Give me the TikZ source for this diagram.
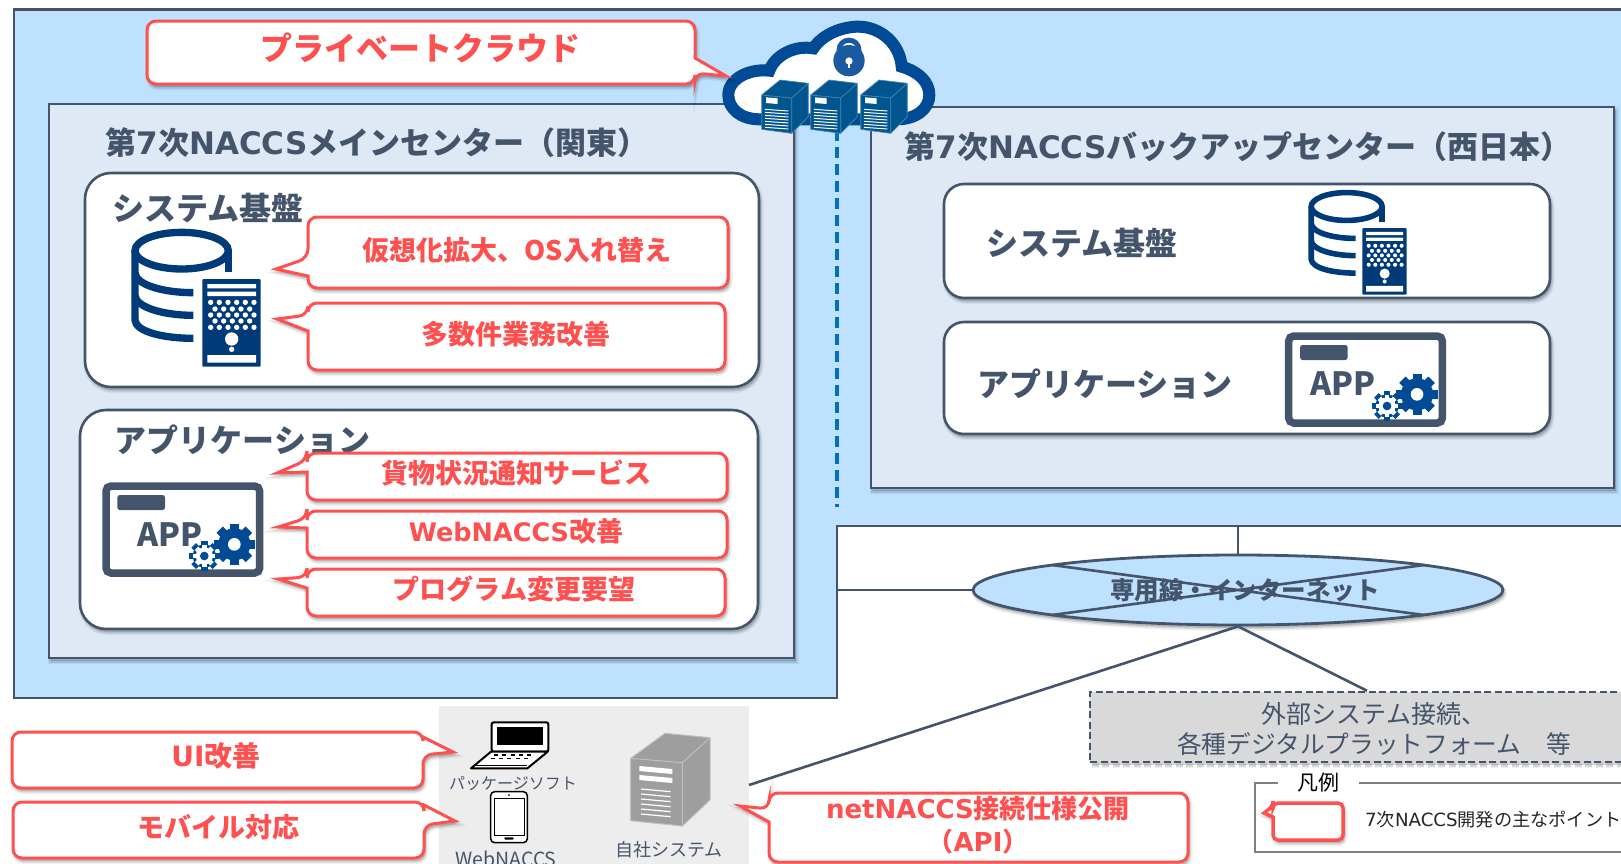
\documentclass[tikz,border=0pt]{standalone}
\usepackage{fontspec}
\setmainfont{Noto Sans CJK JP}
\newfontfamily\vd{DejaVu Sans}
\usetikzlibrary{shapes.geometric}
\definecolor{outerblue}{HTML}{BDE1FF}
\definecolor{mainfill}{HTML}{DEE9F5}
\definecolor{slate}{HTML}{44546A}
\definecolor{redc}{HTML}{FF5050}
\definecolor{navy}{HTML}{003A78}
\definecolor{cloudb}{HTML}{004A96}
\definecolor{srvb}{HTML}{00558F}
\definecolor{lockb}{HTML}{1B5AA0}
\definecolor{dashb}{HTML}{0070C0}
\definecolor{panelg}{HTML}{EDEDED}
\definecolor{extg}{HTML}{D9D9D9}
\newcommand\fsz[1]{\fontsize{#1}{#1}\selectfont}
\newcommand\la[1]{{\vd #1}}
\tikzset{
  softshadow/.style={
    preaction={draw=black,fill=black,opacity=.06,line width=6pt,transform canvas={xshift=1.5pt,yshift=-3pt}},
    preaction={draw=black,fill=black,opacity=.10,line width=3pt,transform canvas={xshift=1.5pt,yshift=-3pt}}},
  panelbox/.style={draw=slate,line width=2.6pt,rectangle,inner sep=0},
  whitebox/.style={panelbox,fill=white,rounded corners=26pt,softshadow},
  hd/.style={inner sep=0,text=slate,font=\bfseries\fsz{31}},
  hdb/.style={inner sep=0,text=slate,font=\bfseries\fsz{32}},
  rd/.style={inner sep=0,text=redc,font=\bfseries\fsz{27},align=center},
  callbox/.style={draw=redc,line width=3pt,fill=white,miter limit=10,softshadow},
  captxt/.style={inner sep=0,text=slate,align=center},
  conn/.style={draw=slate,line width=2.6pt}
}
% left tail callout: x1 y1 x2 y2 base1 base2 tipx tipy
\newcommand\callL[8]{\path[callbox] (#1,#5) -- (#7,#8) -- (#1,#6) [rounded corners=9pt] -- (#1,#4) -- (#3,#4) -- (#3,#2) -- (#1,#2) -- cycle;}
% right tail callout
\newcommand\callR[8]{\path[callbox] (#3,#6) -- (#7,#8) -- (#3,#5) [rounded corners=9pt] -- (#3,#2) -- (#1,#2) -- (#1,#4) -- (#3,#4) -- cycle;}
% blue server at zoom offset
\newcommand\bserver[1]{\begin{scope}[shift={(#1,0)}]
  \filldraw[fill=srvb,draw=srvb!70!white,line width=.7pt,line join=round] (245,285) -- (300,240) -- (385,250) -- (385,350) -- (335,400) -- (245,388) -- cycle;
  \draw[srvb!70!white,line width=.7pt] (245,285) -- (335,294) -- (385,250) (335,294) -- (335,400);
  \fill[white] (258,292) -- (293,295) -- (293,312) -- (258,309) -- cycle;
  \foreach \yy in {328,337,346,355,364,373,382} \draw[white,line width=1pt] (255,\yy) -- (325,\yy+5);
\end{scope}}
% database icon
\newcommand\dbicon[3]{\pgfmathsetlengthmacro\dblw{22*#3}\pgfmathsetmacro\dbs{#3}
\begin{scope}[shift={(#1,#2)},scale=\dbs]
  \draw[navy,line width=\dblw] (275,122) ellipse [x radius=140,y radius=55];
  \draw[navy,line width=\dblw] (415,122) -- (415,185);
  \draw[navy,line width=\dblw] (135,122) -- (135,330) .. controls (137,365) and (220,385) .. (310,385);
  \draw[navy,line width=\dblw] (135,190) .. controls (140,225) and (220,248) .. (310,248);
  \draw[navy,line width=\dblw] (135,258) .. controls (140,292) and (220,316) .. (310,316);
  \fill[navy,rounded corners=1pt] (337,207) rectangle (512,470);
  \fill[white] (352,222) rectangle (498,235) (352,245) rectangle (498,258) (352,435) rectangle (498,458);
  \foreach \yy in {277,315,352} \foreach \xx in {362,388,414,440,466,492} \fill[white] (\xx,\yy) circle (8);
  \foreach \yy in {297,333} \foreach \xx in {375,401,427,453,479} \fill[white] (\xx,\yy) circle (8);
  \fill[white] (425,387) circle (20) (425,418) circle (8);
\end{scope}}
\newcommand\gearshape[4]{\fill[#4] (#1,#2) circle (#3*0.78);
  \foreach \aa in {0,45,...,315} \fill[#4,shift={(#1,#2)},rotate=\aa] (-#3*0.22,-#3) rectangle (#3*0.22,0);}
% application icon: name, x, y, text x, text y
\newcommand\appicon[5]{\begin{scope}[shift={(#2,#3)},scale=1/3]
  \draw[slate,line width=7.5pt,rounded corners=5pt,fill=white] (48,78) rectangle (509,339);
  \fill[slate,rounded corners=2.5pt] (82,105) rectangle (225,150);
  \node[inner sep=0,text=slate,font=\bfseries\fsz{32}] (#1) at (#4,#5) {APP};
  \gearshape{433}{253}{62}{cloudb}
  \fill[white] (433,253) circle (19);
  \gearshape{343}{288}{45}{cloudb}
  \gearshape{343}{288}{33}{white}
  \fill[cloudb] (343,288) circle (13);
\end{scope}}
\begin{document}
\begin{tikzpicture}[x=1pt,y=-1pt]
\clip (0,0) rectangle (1621,863);
\useasboundingbox (0,0) rectangle (1621,863);
\fill[white] (0,0) rectangle (1621,863);
% outer area
\filldraw[fill=outerblue,draw=slate,line width=2.6pt] (14,9.5) -- (1640,9.5) -- (1640,526) -- (837,526) -- (837,698) -- (14,698) -- cycle;
% centres
\node[panelbox,fill=mainfill,minimum width=745pt,minimum height=554pt,softshadow] (main) at (421.5,381) {};
\node[panelbox,fill=mainfill,minimum width=743pt,minimum height=381pt,softshadow] (backup) at (1242.5,297.5) {};
\coordinate (dashtop) at (837,130);
\coordinate (dashbot) at (837,507);
\draw[dashb,line width=3.6pt,dash pattern=on 11pt off 6pt] (dashtop) -- (dashbot);
\node[hd] (maint) at (377,143) {第\la{7}次\la{NACCS}メインセンター（関東）};
\node[hd] (backt) at (1238,147) {第\la{7}次\la{NACCS}バックアップセンター（西日本）};
% white boxes
\node[whitebox,minimum width=674pt,minimum height=214pt] (sysL) at (422,280) {};
\node[whitebox,minimum width=678pt,minimum height=219pt] (appL) at (419,519.5) {};
\node[whitebox,minimum width=606pt,minimum height=114pt,rounded corners=20pt] (sysR) at (1247,241) {};
\node[whitebox,minimum width=606pt,minimum height=112pt,rounded corners=20pt] (appR) at (1247,378) {};
\node[hdb] (sysLt) at (208,208) {システム基盤};
\node[hdb] (appLt) at (242.5,440) {アプリケーション};
\node[hdb] (sysRt) at (1082,243) {システム基盤};
\node[hdb] (appRt) at (1105,384) {アプリケーション};
% icons
\dbicon{90}{210}{1/3}
\dbicon{1277}{175.6}{0.2533}
\appicon{appa}{90}{460}{240}{225}
\appicon{appb}{1272.7}{310}{210}{220}
% callouts in the boxes
\callL{308}{217}{728}{288}{258}{276}{276}{269}
\node[rd] (c1) at (517,250) {仮想化拡大、OS入れ替え};
\callL{308}{303}{725}{370}{315}{331}{277}{319}
\node[rd] (c2) at (516,334) {多数件業務改善};
\callL{307}{453}{727}{500}{460}{472}{277}{473}
\node[rd] (c3) at (516,473) {貨物状況通知サービス};
\callL{307}{511}{727}{558}{518}{528}{278}{527}
\node[rd] (c4) at (516,531) {{\fsz{25.5}\vd WebNACCS}改善};
\callL{307}{569}{725}{616}{577}{588}{278}{579}
\node[rd] (c5) at (514,589) {プログラム変更要望};
% cloud
\begin{scope}[shift={(680,0)},scale=1/3]
  \filldraw[fill=white,draw=cloudb,line width=12pt] (240,358) .. controls (180,358) and (145,325) .. (145,285) .. controls (145,235) and (210,205) .. (268,212) .. controls (285,165) and (345,135) .. (400,145) .. controls (430,100) and (490,80) .. (535,80) .. controls (600,80) and (660,130) .. (665,200) .. controls (715,215) and (748,245) .. (748,285) .. controls (748,325) and (710,358) .. (650,358) -- cycle;
  \fill[lockb] (507,182) circle (47);
  \draw[lockb,line width=5pt] (477,160) -- (477,152) .. controls (477,110) and (537,110) .. (537,152) -- (537,160);
  \fill[white] (507,183) circle (11);
  \fill[white] (503,185) rectangle (511,203);
  \bserver{0}
  \bserver{147}
  \bserver{297}
\end{scope}
% top callout
\callR{147}{21}{695}{84}{58}{73}{726}{76}
\node[rd,font=\bfseries\fsz{32}] (c0) at (420,48) {プライベートクラウド};
% network
\node[ellipse,draw=slate,line width=2.8pt,fill=outerblue,inner sep=0,minimum width=530pt,minimum height=70pt,softshadow] (net) at (1238,590) {};
\coordinate (a1) at (1052,565);
\coordinate (a2) at (1424,615);
\coordinate (a3) at (1052,615);
\coordinate (a4) at (1424,565);
\draw[conn] (a1) -- (a2) (a3) -- (a4);
\node[captxt,font=\bfseries\fsz{24.5}] (nett) at (1245,590) {専用線・インターネット};
\coordinate (stepa) at (1238,526);
\coordinate (stepb) at (837,590);
\draw[conn] (stepa) -- (net.north);
\draw[conn] (stepb) -- (net.west);
% panel
\node[fill=panelg,inner sep=0,minimum width=310pt,minimum height=170pt] (panel) at (594,791) {};
\node[panelbox,dash pattern=on 7pt off 3.5pt,fill=extg,minimum width=554pt,minimum height=70pt,softshadow] (ext) at (1367,727) {};
\coordinate (pc) at (749,785);
\draw[conn] (net.south) -- (pc);
\draw[conn] (net.south) -- (ext.north);
\node[captxt,font=\fsz{25}] (extt1) at (1374,714) {外部システム接続、};
\node[captxt,font=\fsz{24.7}] (extt2) at (1374,744) {各種デジタルプラットフォーム　等};
% laptop, tablet, server
\begin{scope}[shift={(420,700)},scale=1/3]
  \draw[black,line width=2pt,fill=white,rounded corners=2pt] (215,67) rectangle (385,155);
  \fill[black] (232,80) rectangle (368,135);
  \filldraw[fill=white,draw=black,line width=2pt,line join=round] (213,155) -- (383,155) -- (322,205) -- (153,205) -- cycle;
  \draw[black,line width=1pt] (165,195) -- (320,195);
  \foreach \xx in {222,247,272,297,322} \draw[black,line width=1.2pt] (\xx,165) -- (\xx+12,165);
  \foreach \xx in {212,237,262,287,312} \draw[black,line width=1.2pt] (\xx,176) -- (\xx+12,176);
  \draw[black,line width=1.5pt,rounded corners=4pt,fill=white] (212,275) rectangle (322,428);
  \draw[black,line width=.8pt] (222,295) rectangle (312,405);
  \fill[black] (267,285) circle (3);
  \fill[black,rounded corners=1pt] (253,412) rectangle (281,419);
  \filldraw[fill=black!38,draw=black!25,line width=1pt,line join=round] (632,175) -- (735,100) -- (870,113) -- (870,300) -- (787,378) -- (632,362) -- cycle;
  \draw[black!25,line width=1pt] (632,175) -- (787,188) -- (870,113) (787,188) -- (787,378);
  \fill[white] (658,198) -- (757,207) -- (757,222) -- (658,213) -- cycle;
  \fill[white] (658,225) -- (757,234) -- (757,249) -- (658,240) -- cycle;
  \foreach \yy in {267,282,297,312,327,342} \draw[white,line width=1.2pt] (663,\yy) -- (752,\yy+8);
\end{scope}
\node[captxt,font=\fsz{16}] (pkg) at (513,784) {パッケージソフト};
\node[captxt,font=\fsz{19.5}] (web) at (506,859) {WebNACCS};
\node[captxt,font=\fsz{18}] (own) at (669,850) {自社システム};
% left callouts
\callR{12}{732}{423}{788}{737}{755}{453}{752}
\node[rd,font=\bfseries\fsz{28}] (c6) at (216,756) {\la{UI}改善};
\callR{13}{802}{424}{858}{805}{825}{455}{821}
\node[rd] (c7) at (218,827) {モバイル対応};
\callL{769}{793}{1188}{862}{809}{822}{740}{806}
\node[rd,font=\bfseries\fsz{26}] (c8) at (978,825) {\la{netNACCS}接続仕様公開\\[7pt]（\la{API}）};
% legend
\node[inner sep=0,minimum width=81pt,font=\fsz{21},text=black] (leg) at (1318.5,783) {凡例};
\coordinate (l1) at (1255,783);
\coordinate (l2) at (1255,852);
\coordinate (l3) at (1640,852);
\coordinate (l4) at (1640,783);
\draw[gray,line width=2.4pt] (leg.west) -- (l1) -- (l2) -- (l3);
\draw[gray,line width=2.4pt] (leg.east) -- (l4);
\path[callbox,line width=3.5pt] (1273,806) -- (1264,813) -- (1273,817) [rounded corners=5pt] -- (1273,840) -- (1343,840) -- (1343,803) -- (1273,803) -- cycle;
\node[anchor=west,inner sep=0,font=\fsz{18.2},text=black!85] (legt) at (1365,820) {\la{7}次\la{NACCS}開発の主なポイント};
\end{tikzpicture}
\end{document}
